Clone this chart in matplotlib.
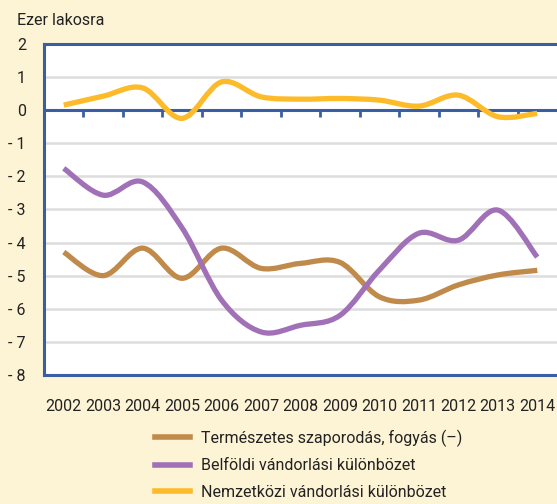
import numpy as np
import matplotlib
matplotlib.use("Agg")
import matplotlib.pyplot as plt
from matplotlib.path import Path
from matplotlib.patches import PathPatch
from matplotlib.lines import Line2D

plt.rcParams['font.family'] = ['Roboto', 'DejaVu Sans']

years = ['2002', '2003', '2004', '2005', '2006', '2007', '2008',
         '2009', '2010', '2011', '2012', '2013', '2014']
termeszetes = [-4.29, -5.0, -4.17, -5.08, -4.17, -4.78, -4.63,
               -4.6, -5.64, -5.74, -5.28, -4.98, -4.84]
belfoldi = [-1.76, -2.57, -2.17, -3.56, -5.74, -6.7, -6.5,
            -6.2, -4.83, -3.72, -3.93, -3.02, -4.44]
nemzetkozi = [0.15, 0.42, 0.67, -0.25, 0.85, 0.4, 0.33,
              0.35, 0.3, 0.12, 0.45, -0.2, -0.1]
series_names = ['Természetes szaporodás, fogyás (–)',
                'Belföldi vándorlási különbözet',
                'Nemzetközi vándorlási különbözet']
colors = ['#C08A4B', '#A071B6', '#FDBB2A']

bg = '#FDF3D5'
blue = '#3A5EA3'


def smooth_path(x, y):
    # Excel-style smoothed line: cubic bezier segments through the points
    p = np.column_stack([x, y]).astype(float)
    ext = np.vstack([p[0], p, p[-1]])
    verts = [p[0]]
    codes = [Path.MOVETO]
    for i in range(len(p) - 1):
        p0, p1, p2, p3 = ext[i], ext[i + 1], ext[i + 2], ext[i + 3]
        c1 = p1 + (p2 - p0) / 6.0
        c2 = p2 - (p3 - p1) / 6.0
        verts += [c1, c2, p2]
        codes += [Path.CURVE4] * 3
    return Path(verts, codes)


fig = plt.figure(figsize=(5.57, 5.04), dpi=100, facecolor=bg)
ax = fig.add_axes([0.079, 0.256, 0.921, 0.657])
ax.set_facecolor('white')

x = np.arange(len(years))
for vals, c in zip([nemzetkozi, termeszetes, belfoldi], [colors[2], colors[0], colors[1]]):
    ax.add_patch(PathPatch(smooth_path(x, vals), fill=False, edgecolor=c,
                           lw=3.8, capstyle='butt', zorder=3))

ax.set_xlim(-0.5, 12.5)
ax.set_ylim(-8, 2)
ax.set_yticks(range(-8, 3))
ax.set_yticklabels([str(v) if v >= 0 else '- ' + str(-v) for v in range(-8, 3)])
ax.set_xticks(x)
ax.set_xticklabels(years)
ax.tick_params(axis='both', length=0, labelsize=11.5, colors='#222222')
ax.tick_params(axis='x', pad=17)
ax.tick_params(axis='y', pad=13)
ax.grid(axis='y', color='#DDDDDD', lw=1.8, zorder=0)
ax.set_axisbelow(True)
ax.axhline(0, color=blue, lw=2.2, zorder=2)

for s in ['left', 'top', 'bottom']:
    ax.spines[s].set_color(blue)
    ax.spines[s].set_linewidth(2.2)
ax.spines['right'].set_visible(False)

# category boundary ticks hanging below the zero line
zero = ax.secondary_xaxis(0.8)
zero.set_xticks(np.arange(0.5, 12.5, 1.0))
zero.xaxis.set_ticks_position('bottom')
zero.tick_params(length=5, width=2, color=blue, direction='out',
                 labelbottom=False, labeltop=False)
zero.spines['bottom'].set_color(blue)
zero.spines['bottom'].set_linewidth(2.2)

fig.text(0.03, 0.96, 'Ezer lakosra', fontsize=11.5, color='#222222', va='center')

handles = [Line2D([], [], color=c, lw=4) for c in colors]
fig.legend(handles, series_names, loc='center left', bbox_to_anchor=(0.252, 0.078),
           frameon=False, fontsize=11.5, handlelength=2.2, handletextpad=0.7,
           labelspacing=0.72, labelcolor='#222222')

fig.savefig('out.png', dpi=100, facecolor=bg)
